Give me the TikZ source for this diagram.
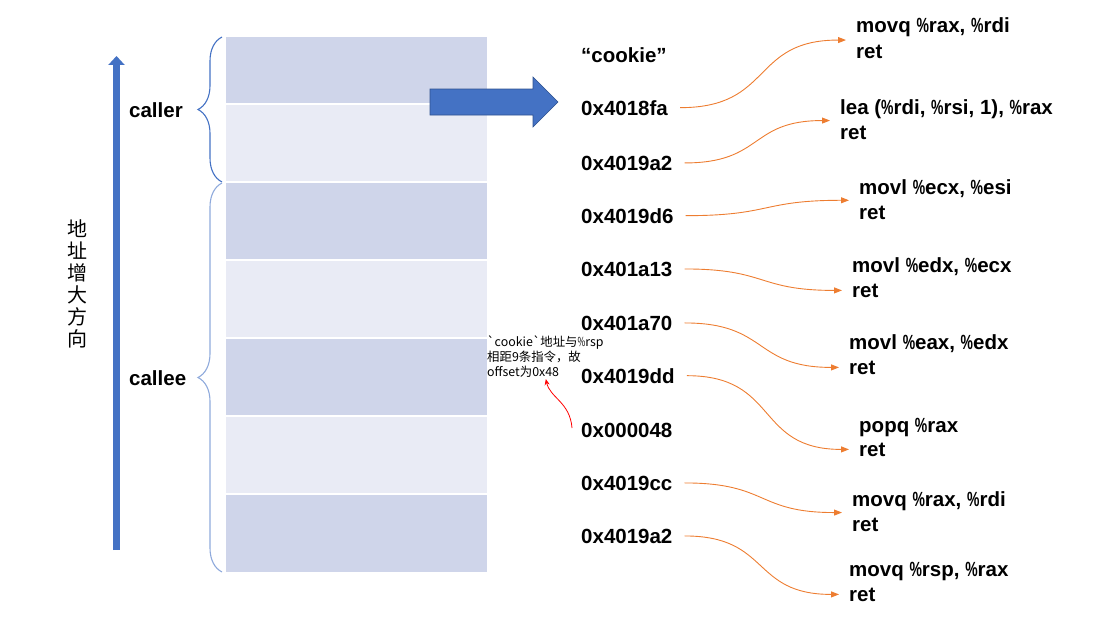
\documentclass[tikz,border=0pt]{standalone}
\usepackage{fontspec}
\setmainfont{Liberation Sans}
\newfontfamily\cjkfont{Noto Sans CJK SC}[Ligatures=TeXOff]
\usetikzlibrary{arrows.meta,decorations.pathreplacing,calc}
\newcommand\narpct{\scalebox{0.68}[1]{\%}}
\definecolor{boxdark}{HTML}{CFD5EA}
\definecolor{boxlight}{HTML}{E9EBF5}
\definecolor{arrowblue}{HTML}{4472C4}
\definecolor{arrowedge}{HTML}{2F528F}
\definecolor{bracedark}{HTML}{4472C4}
\definecolor{bracelight}{HTML}{8FAADC}
\definecolor{gadgetorange}{HTML}{ED7D31}
\definecolor{notered}{HTML}{FF0000}
\tikzset{
  bigtext/.style={font=\bfseries\fontsize{20.5}{24}\selectfont, inner sep=0pt, anchor=base west},
  cell/.style={draw=white, line width=1.2pt},
  stackbrace/.style={decorate, decoration={brace, amplitude=24pt, aspect=0.5}, line width=1.1pt},
  gadgetarrow/.style={gadgetorange, line width=0.9pt, -{Triangle[length=8pt,width=6pt]},
    shorten <=12pt, shorten >=10pt},
  annot/.style={font=\cjkfont\fontsize{12.4}{15}\selectfont, inner sep=0pt, align=left},
}
\begin{document}
\begin{tikzpicture}[x=1pt,y=-1pt]
\useasboundingbox (0,0) rectangle (1103,618);
% stack cells
\fill[boxdark]  (226,37)  rectangle (487,104);
\fill[boxlight] (226,104) rectangle (487,182);
\fill[boxdark]  (226,182) rectangle (487,260);
\fill[boxlight] (226,260) rectangle (487,338);
\fill[boxdark]  (226,338) rectangle (487,416);
\fill[boxlight] (226,416) rectangle (487,494);
\fill[boxdark]  (226,494) rectangle (487,572);
\foreach \yy in {104,182,260,338,416,494} \draw[cell] (226,\yy) -- (487,\yy);
% braces
\draw[stackbrace, bracedark]  (222,182) -- (222,37);
\draw[stackbrace, bracelight] (222,572) -- (222,183);
\node[bigtext] (caller) at (129,117) {caller};
\node[bigtext] (callee) at (129,385) {callee};
% address direction arrow
\coordinate (vb) at (116.5,550);
\coordinate (vt) at (116.5,56);
\draw[arrowblue, line width=7pt, -{Triangle[length=9pt,width=16pt]}] (vb) -- (vt);
\node[font=\cjkfont\fontsize{20}{22}\selectfont, align=center, inner sep=0pt] (dir) at (77,284) {地\\址\\增\\大\\方\\向};
% block arrow
\filldraw[fill=arrowblue, draw=arrowedge, line width=0.6pt]
  (430,89) -- (533,89) -- (533,77) -- (558,102) -- (533,127) -- (533,115) -- (430,115) -- cycle;
% addresses
\node[bigtext] (a0) at (581,63)  {“cookie”};
\node[bigtext] (a1) at (581,115) {0x4018fa};
\node[bigtext] (a2) at (581,170) {0x4019a2};
\node[bigtext] (a3) at (581,223) {0x4019d6};
\node[bigtext] (a4) at (581,276) {0x401a13};
\node[bigtext] (a5) at (581,330) {0x401a70};
\node[bigtext] (a6) at (581,383) {0x4019dd};
\node[bigtext] (a7) at (581,437) {0x000048};
\node[bigtext] (a8) at (581,490) {0x4019cc};
\node[bigtext] (a9) at (581,543) {0x4019a2};
% gadgets
\node[bigtext] (i1) at (856,33)  {movq \narpct rax, \narpct rdi};
\node[bigtext] (t1) at (856,59)  {ret};
\node[bigtext] (i2) at (840,114) {lea (\narpct rdi, \narpct rsi, 1), \narpct rax};
\node[bigtext] (t2) at (840,139) {ret};
\node[bigtext] (i3) at (859,194) {movl \narpct ecx, \narpct esi};
\node[bigtext] (t3) at (859,219) {ret};
\node[bigtext] (i4) at (852,272) {movl \narpct edx, \narpct ecx};
\node[bigtext] (t4) at (852,297) {ret};
\node[bigtext] (i5) at (849,349) {movl \narpct eax, \narpct edx};
\node[bigtext] (t5) at (849,374) {ret};
\node[bigtext] (i6) at (859,432) {popq \narpct rax};
\node[bigtext] (t6) at (859,456) {ret};
\node[bigtext] (i7) at (852,506) {movq \narpct rax, \narpct rdi};
\node[bigtext] (t7) at (852,531) {ret};
\node[bigtext] (i8) at (849,576) {movq \narpct rsp, \narpct rax};
\node[bigtext] (t8) at (849,601) {ret};
% gadget arrows
\draw[gadgetarrow] (a1.east) to[out=0,in=180,looseness=1.35] ($(i1.west)!0.5!(t1.west)$);
\draw[gadgetarrow] (a2.east) to[out=0,in=180,looseness=1.35] ($(i2.west)!0.5!(t2.west)$);
\draw[gadgetarrow] (a3.east) to[out=0,in=180,looseness=1.35] ($(i3.west)!0.5!(t3.west)$);
\draw[gadgetarrow] (a4.east) to[out=0,in=180,looseness=1.35] (t4.west);
\draw[gadgetarrow] (a5.east) to[out=0,in=180,looseness=1.35] (t5.west);
\draw[gadgetarrow] (a6.east) to[out=0,in=180,looseness=1.35] (t6.west);
\draw[gadgetarrow] (a8.east) to[out=0,in=180,looseness=1.35] ($(i7.west)!0.5!(t7.west)$);
\draw[gadgetarrow] (a9.east) to[out=0,in=180,looseness=1.35] (t8.west);
% annotation
\node[annot, anchor=north west] (ann) at (487,335) {`cookie`地址与\narpct rsp\\相距9条指令，故\\offset为0x48};
\coordinate (rs) at (572,428);
\draw[notered, line width=0.8pt, -{Stealth[length=6pt,width=5pt]}, shorten >=2pt]
  (rs) .. controls (570,402) and (550,398) .. (ann.south);
\end{tikzpicture}
\end{document}
